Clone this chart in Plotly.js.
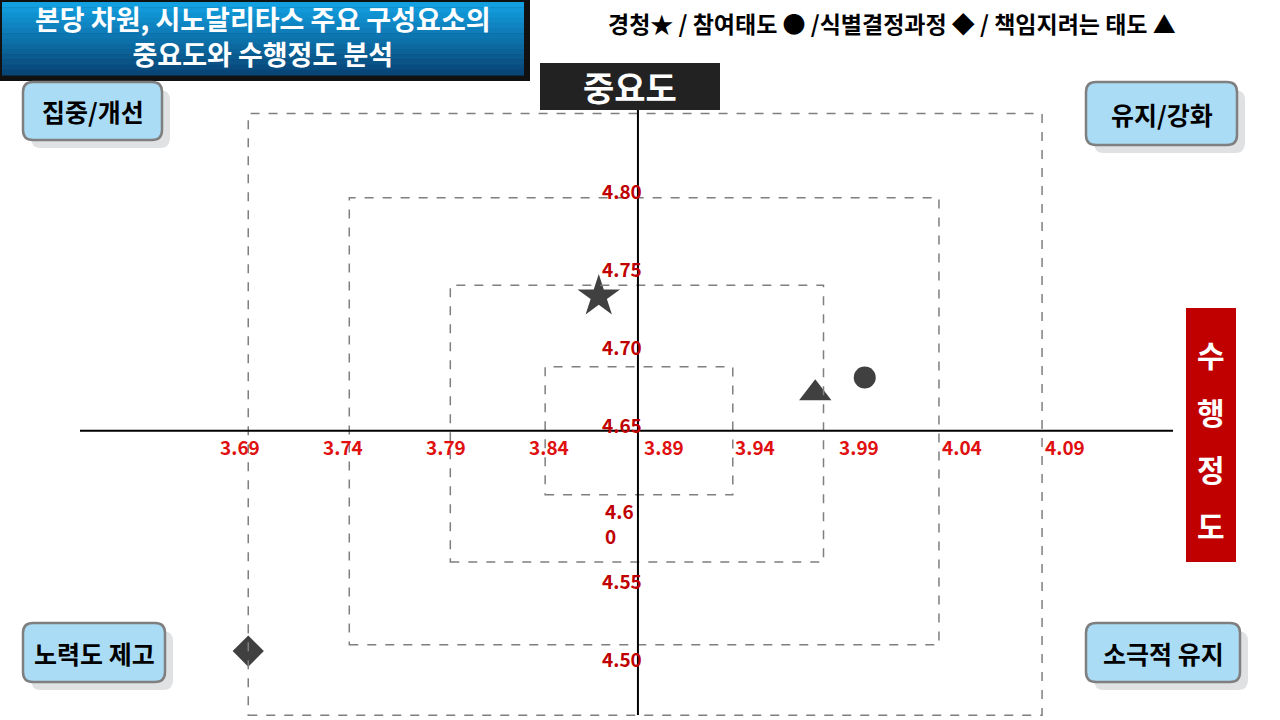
<!DOCTYPE html>
<html>
<head>
<meta charset="utf-8">
<script src="https://cdn.plot.ly/plotly-3.0.1.min.js"></script>
<style>
  html, body { margin: 0; padding: 0; background: #ffffff; }
  #chart { width: 1280px; height: 720px; }
</style>
</head>
<body>
<div id="chart"></div>
<script>
// 중요도-수행정도 (IPA) 분석 데이터
const elements = ['경청', '참여태도', '식별결정과정', '책임지려는 태도'];
const performance = [3.864, 3.993, 3.694, 3.969];   // 수행정도 (x)
const importance = [4.732, 4.680, 4.505, 4.670];    // 중요도 (y)
const symbols = ['star', 'circle', 'diamond', 'triangle-up'];
const markerSizes = [32, 22, 24, 28];

const xTicks = [3.69, 3.74, 3.79, 3.84, 3.89, 3.94, 3.99, 4.04, 4.09];
const yTicks = [4.80, 4.75, 4.70, 4.65, 4.60, 4.55, 4.50];
const yTickText = ['4.80', '4.75', '4.70', '4.65', '4.6<br>0', '4.55', '4.50'];

// where the two cross lines meet
const crossX = 3.883;
const crossY = 4.646;

// dashed guide frames [x0, x1, y0, y1] in data units
const frames = [
    [3.694, 4.079, 4.464, 4.849],
    [3.743, 4.029, 4.509, 4.795],
    [3.792, 3.973, 4.562, 4.739],
    [3.838, 3.929, 4.605, 4.687]
];

const FONT = '"Noto Sans CJK KR", "Noto Sans", sans-serif';
const W = 1280, H = 720;
const px = x => x / W;
const py = y => 1 - y / H;

const shapes = [];
const annotations = [];

// paper-positioned text, centred on the given pixel
function label(x, y, text, size, color) {
    annotations.push({ xref: 'paper', yref: 'paper', x: px(x), y: py(y), xanchor: 'center', yanchor: 'middle',
        showarrow: false, text: text, align: 'center', font: { family: FONT, size: size, color: color } });
}

// title box with a rough vertical gradient
shapes.push({ type: 'rect', xref: 'paper', yref: 'paper', x0: px(0), x1: px(530), y0: py(81), y1: py(0),
    fillcolor: '#111111', line: { width: 0 }, layer: 'below' });
const gradTop = [18, 160, 225], gradBot = [8, 70, 120];
const steps = 14;
for (let i = 0; i < steps; i++) {
    const t = i / (steps - 1);
    const c = gradTop.map((v, k) => Math.round(v + (gradBot[k] - v) * t));
    const yA = 2 + i * (73 / steps), yB = 2 + (i + 1) * (73 / steps) + 0.5;
    shapes.push({ type: 'rect', xref: 'paper', yref: 'paper', x0: px(2), x1: px(524), y0: py(yB), y1: py(yA),
        fillcolor: `rgb(${c[0]},${c[1]},${c[2]})`, line: { width: 0 }, layer: 'below' });
}
label(263, 36, '<b>본당 차원, 시노달리타스 주요 구성요소의<br>중요도와 수행정도 분석</b>', 27, '#ffffff');

// legend line
label(892, 23, '<b>경청★ / 참여태도 ● /식별결정과정 ◆ / 책임지려는 태도 ▲</b>', 23, '#000000');

// 중요도 box
shapes.push({ type: 'rect', xref: 'paper', yref: 'paper', x0: px(540), x1: px(720), y0: py(110), y1: py(63),
    fillcolor: '#222222', line: { width: 0 } });
label(630, 86, '<b>중요도</b>', 34, '#ffffff');

// 수행정도 box
shapes.push({ type: 'rect', xref: 'paper', yref: 'paper', x0: px(1186), x1: px(1236), y0: py(562), y1: py(308),
    fillcolor: '#c00000', line: { width: 0 } });
'수행정도'.split('').forEach((ch, i) => label(1211, 354 + i * 57, '<b>' + ch + '</b>', 30, '#ffffff'));

// quadrant label boxes
function roundRect(x0, y0, x1, y1, r) {
    return `M ${px(x0 + r)} ${py(y0)} L ${px(x1 - r)} ${py(y0)} Q ${px(x1)} ${py(y0)} ${px(x1)} ${py(y0 + r)} ` +
        `L ${px(x1)} ${py(y1 - r)} Q ${px(x1)} ${py(y1)} ${px(x1 - r)} ${py(y1)} ` +
        `L ${px(x0 + r)} ${py(y1)} Q ${px(x0)} ${py(y1)} ${px(x0)} ${py(y1 - r)} ` +
        `L ${px(x0)} ${py(y0 + r)} Q ${px(x0)} ${py(y0)} ${px(x0 + r)} ${py(y0)} Z`;
}
const quadBoxes = [
    { label: '집중/개선', box: [23, 82, 162, 140] },
    { label: '유지/강화', box: [1086, 82, 1237, 145] },
    { label: '노력도 제고', box: [23, 623, 165, 682] },
    { label: '소극적 유지', box: [1086, 623, 1240, 682] }
];
quadBoxes.forEach(q => {
    const [x0, y0, x1, y1] = q.box;
    shapes.push({ type: 'path', xref: 'paper', yref: 'paper', path: roundRect(x0 + 8, y0 + 8, x1 + 8, y1 + 8, 10),
        fillcolor: '#dfe1e3', line: { width: 0 } });
    shapes.push({ type: 'path', xref: 'paper', yref: 'paper', path: roundRect(x0, y0, x1, y1, 10),
        fillcolor: '#abdcf6', line: { color: '#7f7f7f', width: 2.5 } });
    label((x0 + x1) / 2, (y0 + y1) / 2, '<b>' + q.label + '</b>', 25, '#000000');
});

// dashed frames
frames.forEach(f => {
    shapes.push({ type: 'rect', xref: 'x', yref: 'y', x0: f[0], x1: f[1], y0: f[2], y1: f[3],
        line: { color: '#7f7f7f', width: 1.5, dash: 'dash' }, fillcolor: 'rgba(0,0,0,0)' });
});

// cross lines
shapes.push({ type: 'line', xref: 'x', yref: 'paper', x0: crossX, x1: crossX, y0: py(715), y1: py(110),
    line: { color: '#000000', width: 2 } });
shapes.push({ type: 'line', xref: 'paper', yref: 'y', x0: px(80), x1: px(1173), y0: crossY, y1: crossY,
    line: { color: '#000000', width: 2 } });

// tick labels (the centre one sits just right of the vertical line)
xTicks.forEach(v => {
    const atCross = Math.abs(v - crossX) < 0.01;
    annotations.push({ xref: 'x', yref: 'y', x: atCross ? crossX : v, y: crossY, yshift: -16,
        xshift: atCross ? 4 : 0, showarrow: false,
        xanchor: atCross ? 'left' : 'center', yanchor: 'middle',
        text: '<b>' + v.toFixed(2) + '</b>', font: { family: FONT, size: 19, color: '#e01010' } });
});
yTicks.forEach((v, i) => {
    const wrapped = yTickText[i].includes('<br>');
    annotations.push({ xref: 'x', yref: 'y', x: crossX, y: v, xshift: wrapped ? -35 : -16,
        yshift: wrapped ? -20 : 0, showarrow: false, align: 'left', xanchor: wrapped ? 'left' : 'center',
        yanchor: 'middle',
        text: '<b>' + yTickText[i] + '</b>', font: { family: FONT, size: 19, color: '#c00000' } });
});

const traces = elements.map((name, i) => ({
    type: 'scatter',
    mode: 'markers',
    name: name,
    x: [performance[i]],
    y: [importance[i]],
    marker: { symbol: symbols[i], size: markerSizes[i], color: '#404040', line: { width: 0 } },
    hovertemplate: name + '<br>수행정도 %{x:.2f}<br>중요도 %{y:.2f}<extra></extra>'
}));

const layout = {
    width: W,
    height: H,
    margin: { l: 0, r: 0, t: 0, b: 0 },
    paper_bgcolor: '#ffffff',
    plot_bgcolor: '#ffffff',
    showlegend: false,
    xaxis: { range: [3.5736, 4.1944], visible: false, fixedrange: true },
    yaxis: { range: [4.4609, 4.9216], visible: false, fixedrange: true },
    shapes: shapes,
    annotations: annotations,
    font: { family: FONT }
};

Plotly.newPlot('chart', traces, layout, { displayModeBar: false, staticPlot: true });
</script>
</body>
</html>
